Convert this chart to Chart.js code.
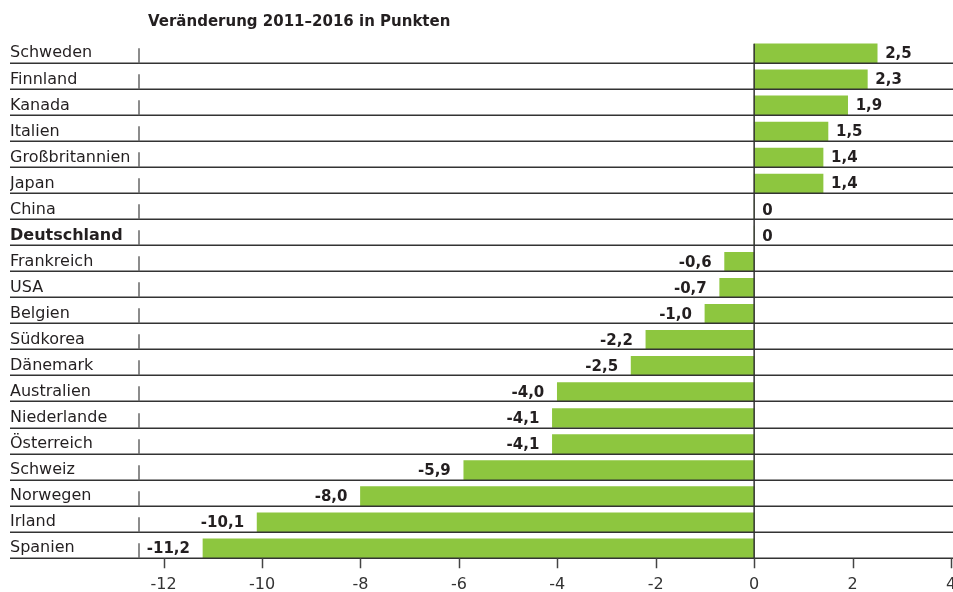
<!DOCTYPE html>
<html>
<head>
<meta charset="utf-8">
<script src="https://cdn.jsdelivr.net/npm/chart.js@4/dist/chart.umd.min.js"></script>
<style>
  body { margin: 0; background: #fff; }
  #wrap { width: 953px; height: 592px; }
</style>
</head>
<body>
<div id="wrap"><canvas id="chart" width="953" height="592"></canvas></div>
<script>
// Daten
const laender = ["Schweden", "Finnland", "Kanada", "Italien", "Großbritannien", "Japan", "China",
  "Deutschland", "Frankreich", "USA", "Belgien", "Südkorea", "Dänemark", "Australien",
  "Niederlande", "Österreich", "Schweiz", "Norwegen", "Irland", "Spanien"];
const veraenderung = [2.5, 2.3, 1.9, 1.5, 1.4, 1.4, 0, 0, -0.6, -0.7, -1.0, -2.2, -2.5, -4.0,
  -4.1, -4.1, -5.9, -8.0, -10.1, -11.2];
const xTicks = [-12, -10, -8, -6, -4, -2, 0, 2, 4];
const titel = "Veränderung 2011–2016 in Punkten";

const GRUEN = "rgb(141, 198, 63)";
const LINIE = "#333";
const BAR_H = 19;

const fmt = v => (v === 0 ? "0" : v.toFixed(1).replace(".", ","));

// Zeilenlinien, Nulllinie, Achsenstriche, Werte und Titel
const deko = {
  id: "deko",
  afterDatasetsDraw(chart) {
    const { ctx, chartArea, scales } = chart;
    const x = scales.x, y = scales.y;
    const half = BAR_H / 2;
    ctx.save();

    // Zeilenlinien unter jedem Balken
    ctx.strokeStyle = LINIE;
    ctx.lineWidth = 1.5;
    laender.forEach((_, i) => {
      const ly = Math.round(y.getPixelForValue(i) + half) + 0.25;
      ctx.beginPath();
      ctx.moveTo(10, ly);
      ctx.lineTo(chart.width, ly);
      ctx.stroke();
      // kleiner Strich links
      ctx.strokeStyle = "#666";
      ctx.beginPath();
      ctx.moveTo(chartArea.left, ly);
      ctx.lineTo(chartArea.left, ly - 15);
      ctx.stroke();
      ctx.strokeStyle = LINIE;
    });

    const top = y.getPixelForValue(0) - half;
    const bottom = Math.round(y.getPixelForValue(laender.length - 1) + half) + 0.25;

    // Nulllinie
    const x0 = x.getPixelForValue(0);
    ctx.beginPath();
    ctx.moveTo(x0, top);
    ctx.lineTo(x0, bottom);
    ctx.stroke();

    // Achsenstriche unten
    ctx.strokeStyle = "#444";
    xTicks.forEach(t => {
      const tx = Math.round(x.getPixelForValue(t)) + 0.5;
      ctx.beginPath();
      ctx.moveTo(tx, bottom);
      ctx.lineTo(tx, bottom + 10);
      ctx.stroke();
    });

    // Werte an den Balken
    ctx.font = "bold 15px 'DejaVu Sans'";
    ctx.fillStyle = "#231f20";
    ctx.textBaseline = "middle";
    const meta = chart.getDatasetMeta(0);
    meta.data.forEach((bar, i) => {
      const v = veraenderung[i];
      if (v >= 0) {
        ctx.textAlign = "left";
        ctx.fillText(fmt(v), bar.x + 8, bar.y + 1);
      } else {
        ctx.textAlign = "right";
        ctx.fillText(fmt(v), bar.x - 13, bar.y + 1);
      }
    });

    // Titel
    ctx.font = "bold 15px 'DejaVu Sans'";
    ctx.textAlign = "left";
    ctx.fillText(titel, 148, 22);
    ctx.restore();
  },
};

new Chart(document.getElementById("chart"), {
  type: "bar",
  data: {
    labels: laender,
    datasets: [{
      data: veraenderung,
      backgroundColor: GRUEN,
      barThickness: BAR_H,
      borderWidth: 0,
    }],
  },
  options: {
    indexAxis: "y",
    responsive: false,
    animation: false,
    layout: { padding: { left: 10, top: 40.3, right: 2, bottom: 0 } },
    plugins: {
      legend: { display: false },
      tooltip: { enabled: false },
    },
    scales: {
      x: {
        min: -12.5,
        max: 4,
        grid: { display: false },
        border: { display: false },
        afterBuildTicks: s => { s.ticks = xTicks.map(v => ({ value: v })); },
        afterFit: s => { s.height = 30.7; s.paddingLeft = 0; s.paddingRight = 0; },
        ticks: {
          autoSkip: false,
          maxRotation: 0,
          padding: 6,
          color: "#333",
          font: { family: "DejaVu Sans", size: 16 },
          callback: v => String(v),
        },
      },
      y: {
        offset: true,
        grid: { display: false },
        border: { display: false },
        afterFit: s => { s.width = 129; s.paddingTop = 0; s.paddingBottom = 0; },
        ticks: {
          crossAlign: "far",
          autoSkip: false,
          color: "#231f20",
          font: ctx => ({
            family: "DejaVu Sans",
            size: 16,
            weight: laender[ctx.index] === "Deutschland" ? "bold" : "normal",
          }),
        },
      },
    },
  },
  plugins: [deko],
});
</script>
</body>
</html>
